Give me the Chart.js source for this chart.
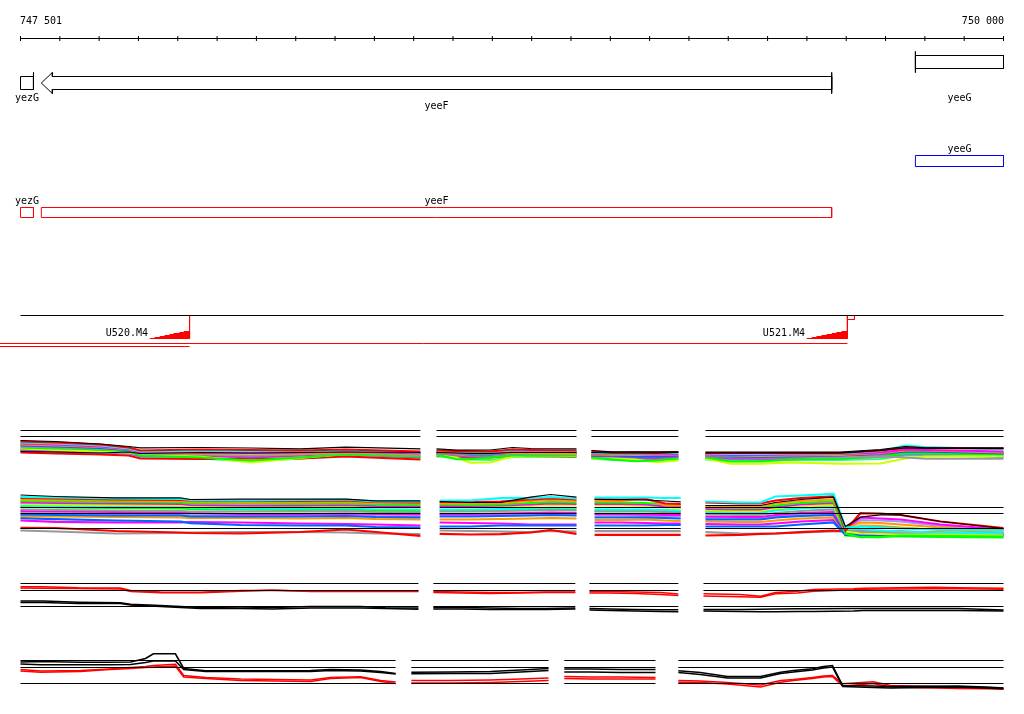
<!DOCTYPE html>
<html>
<head>
<meta charset="utf-8">
<script src="https://cdn.jsdelivr.net/npm/chart.js@4"></script>
<style>
html,body{margin:0;padding:0;background:#ffffff;}
#wrap{width:1024px;height:714px;}
</style>
</head>
<body>
<div id="wrap"><canvas id="c" width="1024" height="714"></canvas></div>
<script>
// ================= DATA =================
const viewStart = 747500, viewEnd = 750000;
const rulerTicks = [747500,747600,747700,747800,747900,748000,748100,748200,748300,748400,748500,748600,748700,
  748800,748900,749000,749100,749200,749300,749400,749500,749600,749700,749800,749900,750000];
const rulerLabels = ['747 501', '750 000'];

const geneNames  = ['yezG', 'yeeF', 'yeeG'];
const geneStart  = [747420, 747553, 749776];
const geneEnd    = [747533, 749563, 750350];
const geneStrand = [-1, -1, 1];
const geneLabelTier = [0, 1, 0];

const promNames = ['U520.M4', 'U521.M4'];
const u520X = [747828, 747841, 747854, 747866, 747879, 747889, 747904, 747915, 747930];
const u520H = [1, 2, 3, 4, 5, 6, 7, 8, 8];
const u521X = [749499, 749512, 749524, 749537, 749550, 749563, 749575, 749588, 749603];
const u521H = [1, 2, 3, 4, 5, 6, 7, 8, 8];
const termStart = [749603], termEnd = [749621];
const tuStart = [747380, 747380];
const tuEnd   = [749603, 747930];
const tuTier  = [0, 1];

// ---- expression row 1 ----
const r1Refs = [40, 34];
const r1aX = [747500, 747589, 747703, 747775, 747805, 747958, 748085, 748212, 748327, 748517];
const r1a = [
 [30, 29, 26.5, 24, 22.7, 23, 22.5, 21.7, 23.3, 21.7],
 [29, 28, 26, 23, 20, 21, 20.5, 20, 21, 19],
 [28, 27, 25, 22, 19, 19, 19, 18.5, 20, 18],
 [27, 26, 24, 21.5, 18, 18, 17.5, 18, 19, 17],
 [26, 25, 23.5, 21, 17.5, 17, 17, 17, 18, 16.5],
 [25, 24, 22.5, 20.5, 18.5, 17.5, 18, 17.5, 18.5, 17.5],
 [24, 23, 22, 20, 17, 16, 15, 16, 17.5, 15.5],
 [23, 22, 21, 19, 15, 13, 10, 13, 16, 14],
 [22, 20.5, 19, 18, 16, 14, 8, 12.5, 16.5, 14.5],
 [21, 20, 19.5, 18, 15, 15, 13, 15, 16, 13],
 [20, 19, 18, 17, 14, 14.5, 14, 15, 17, 14],
 [19, 18.5, 17.5, 18.5, 17, 18, 17.5, 18, 18.5, 18],
 [18, 17, 16, 15, 12, 11.5, 12, 12, 14, 11],
 [20, 18, 16.5, 16, 13, 12, 9, 12, 15, 12]
];
const r1bX = [748558, 748609, 748644, 748695, 748751, 748797, 748914];
const r1b = [
 [21.7, 20.3, 20.3, 20.5, 23, 22, 21.7],
 [20, 19.5, 19, 19, 21, 20.5, 20],
 [19.5, 19, 18.5, 18.5, 20, 20, 19.5],
 [18.5, 18, 17.5, 17.5, 19, 19, 18.5],
 [18, 17, 17, 17, 17.5, 17.5, 17],
 [17.5, 17, 16, 16, 18, 18, 17.5],
 [17, 16, 15, 15, 17, 17, 16.5],
 [16, 11.3, 11.3, 13, 15, 15, 15],
 [15.5, 13, 7.7, 8, 14, 15, 14.5],
 [16.5, 15, 14.5, 14, 16, 16, 16],
 [15, 14.5, 14, 13.5, 15.5, 15.5, 17],
 [18, 17.5, 17, 17, 18, 18, 18],
 [15, 14, 13, 13, 15, 14.5, 14],
 [14, 12.5, 11, 10.5, 13.5, 14, 13.5]
];
const r1cX = [748952, 749006, 749064, 749115, 749173];
const r1c = [
 [20, 18.7, 18.7, 18.7, 18.7],
 [19, 18, 18, 17.5, 18.5],
 [18, 17, 17, 17, 17.5],
 [17, 17, 16.5, 16, 16.5],
 [16, 15.7, 16, 15.5, 16],
 [15, 15, 14, 14, 15],
 [18, 17.5, 18, 18.2, 18.2],
 [13, 11, 9.3, 10, 12],
 [12, 12, 11, 8.3, 10],
 [14, 14, 13, 12.5, 14],
 [13, 12.5, 12, 12, 13],
 [18, 17.5, 17.5, 17.5, 18],
 [14.5, 13.5, 12.5, 12, 13.5],
 [12, 10.5, 10, 11, 11.5]
];
const r1dX = [749242, 749306, 749382, 749458, 749585, 749687, 749751, 749802, 750000];
const r1d = [
 [18.5, 18.5, 18.3, 18.3, 18.5, 21, 24, 22.7, 22.7],
 [17.5, 17.5, 17.5, 17.5, 17.5, 20, 23, 22.5, 22],
 [17, 16.5, 16.5, 17, 17, 19.5, 25, 23.5, 21],
 [16, 15.5, 15.5, 16, 16.5, 18, 21, 20.5, 19],
 [15, 15, 14.5, 15, 15.5, 17.5, 20, 20, 18],
 [14.5, 14, 13.5, 14, 15, 17, 19, 19, 17],
 [14, 13.5, 13, 13, 13.5, 14, 13, 11.7, 11.7],
 [13, 9, 9, 11, 12, 14, 17, 17, 16],
 [12, 6.7, 6.7, 8, 6.7, 7, 12, 14, 14.5],
 [13.5, 12.5, 12, 12.5, 13, 15, 18, 17.5, 15.5],
 [12.5, 11.5, 11, 11.5, 12, 13.5, 16, 16, 14],
 [17.7, 17.7, 17.7, 17.7, 17.7, 20, 22.5, 22, 22],
 [15.5, 15, 14, 14, 14, 15, 17.5, 17.5, 17],
 [11, 10, 10, 10.5, 10.5, 11.5, 15, 15, 13.5]
];
const r1Colors = ['#000000','#ff0000','#00ffff','#ff00ff','#ff9900','#0066ff','#999999','#00ff00',
  '#ccff00','#cc33cc','#9966ff','#000000','#ff0000','#33ff66'];

// ---- expression row 2 ----
const r2Refs = [38, 32, 17];
const r2aX = [747500, 747589, 747742, 747907, 747932, 748060, 748212, 748327, 748403, 748517];
const r2a = [
 [50.5, 49, 47.7, 47.7, 46, 46.3, 46.3, 46.3, 44.7, 44.7],
 [48.5, 48, 47, 46.5, 45.5, 45, 45.5, 46, 44, 44],
 [47.5, 47, 46, 45.5, 45, 44.5, 44.5, 45, 43.5, 43],
 [46, 45.5, 45, 44.5, 43.5, 43, 43, 43.5, 42.5, 42],
 [44.5, 44, 43.5, 43, 42, 42, 41.5, 42, 41, 40.5],
 [43, 42.5, 42, 41.5, 40.5, 40, 40, 40.5, 39.5, 39],
 [41.5, 41, 40.5, 40, 39.5, 39, 38.5, 39, 38, 38],
 [40, 39.5, 39, 38.5, 38, 37, 37, 37.5, 36.5, 36],
 [36, 35.5, 35, 34.5, 34, 34, 34, 34.5, 33.5, 33],
 [34.5, 34, 33.5, 33, 32.5, 31.5, 31.5, 32, 31.5, 31],
 [31, 30.5, 30, 30, 29, 29, 29, 29.5, 28.5, 28],
 [29.3, 29, 28.5, 28, 27.5, 27.5, 27, 27.5, 26.5, 26],
 [32.5, 32, 31.5, 31, 30.5, 30, 30, 30.5, 29.5, 29],
 [27.3, 26.3, 25, 24, 22.3, 20.5, 20, 20, 18.5, 18],
 [25, 23.7, 23, 23, 23.5, 23, 22, 21.5, 21, 20],
 [38.5, 38, 37.5, 37, 36.5, 36, 35.5, 36, 35, 34.5],
 [17.7, 17.5, 14.5, 13, 12.5, 12, 13.5, 16, 13.5, 9.7],
 [15, 14, 12, 12.5, 13, 13.5, 13.5, 13, 12, 11.5]
];
const r2bX = [748566, 748644, 748721, 748797, 748848, 748914];
const r2b = [
 [44, 43, 43, 48.3, 51, 48.3],
 [45, 45, 47.3, 47.3, 48.5, 47],
 [43.5, 43.5, 44, 46, 47, 46],
 [42, 42, 42.5, 44.5, 45.5, 44.5],
 [41, 40.5, 41, 42.5, 43.5, 43],
 [39.5, 39.5, 40, 41, 42, 41.5],
 [38.5, 38, 38.5, 39.5, 40.5, 40],
 [36, 36, 36.5, 37, 38, 37.5],
 [34, 34, 34.5, 35, 35.5, 35],
 [31.5, 31.5, 32, 32.5, 33, 32.5],
 [29, 29, 29.5, 30, 30.5, 30],
 [26, 26, 26.5, 27, 27.5, 27],
 [30, 30, 30.5, 31, 31, 30.5],
 [19, 19, 20, 20, 20, 20],
 [23, 22.5, 22, 21, 21, 21],
 [35, 35, 35.5, 36, 36.5, 36],
 [11.7, 11, 11.3, 13, 15.5, 11.7],
 [15, 14.5, 14, 13.3, 14.5, 14]
];
const r2cX = [748960, 749026, 749090, 749140, 749179];
const r2c = [
 [46, 46, 45.5, 44.5, 43.7],
 [48, 48, 48, 47.5, 47.5],
 [46.5, 46, 46.5, 42, 41.5],
 [44.5, 44.5, 47, 40, 40],
 [43, 43, 42.5, 41, 40.5],
 [41.5, 41.5, 41, 39, 38.5],
 [40, 40, 39.5, 38, 37.5],
 [36, 36, 36, 35.5, 35],
 [34, 34, 34, 33.5, 33],
 [31.5, 31.5, 31, 30.5, 30.5],
 [28, 28, 28, 27.5, 27],
 [25.5, 25.5, 26, 25, 24.5],
 [30, 30, 29.5, 29, 29],
 [20, 20, 20, 20.5, 20.5],
 [23, 23, 22.5, 22, 22],
 [34.7, 34.7, 35, 34, 34],
 [10.7, 10.7, 10.7, 10.7, 10.7],
 [14.3, 14.3, 14.3, 14.3, 14.3]
];
const r2dX = [749242, 749331, 749382, 749420, 749484, 749568, 749598, 749636, 749687, 749738, 749840, 750000];
const r2d = [
 [40, 40, 40, 43, 46, 48.3, 19, 28.3, 30.7, 30.7, 24, 17],
 [44, 43, 43, 49, 50, 51.7, 18, 19, 18, 17, 16, 15],
 [43, 42, 42, 45, 47.5, 49, 15, 32.3, 32, 30.5, 24, 17.5],
 [39.3, 39, 39, 42, 44.5, 46, 17, 23, 22.5, 21, 18, 15],
 [38, 37.5, 37.5, 40, 42.5, 44, 12, 8.3, 8.3, 10, 9.5, 9],
 [36.5, 36, 36, 38.5, 41, 42.5, 16, 28, 27, 26, 21, 16],
 [35, 34.5, 34.5, 37, 39, 40.5, 14, 12, 11.5, 11, 11, 10],
 [33, 32.5, 32.5, 35, 37, 38.5, 17, 16, 15, 14, 13, 12],
 [31, 30.5, 30.5, 32.5, 34.5, 36, 15, 14, 13.5, 13, 12.5, 12],
 [29, 28.5, 28.5, 30.5, 32.5, 33.5, 13.5, 13, 12.5, 12, 12, 11],
 [26, 26, 26, 28, 29.5, 30.5, 12, 10, 10, 10, 10, 9.5],
 [24, 23.5, 23.5, 25, 27, 28, 13, 20, 19.5, 18, 15.5, 13],
 [27.5, 27, 27, 29, 31, 32, 17.5, 25.5, 25, 24, 19.5, 15],
 [19, 19, 19, 19, 21, 23, 10.5, 11, 11, 11, 11, 10.5],
 [21.5, 21, 21, 22, 24, 25.5, 11.5, 14, 13.5, 12.5, 12, 11],
 [34, 33.5, 33.5, 36, 38, 39.5, 10, 9, 9, 9, 8.5, 8],
 [10, 10.7, 11.7, 12, 13.3, 15, 14, 15, 14.5, 14, 13, 12],
 [13.3, 12, 11.7, 12, 13, 14, 14, 13.5, 13, 13, 12.5, 12]
];
const r2Colors = ['#000000','#00ffff','#ff0000','#ff9900','#00ff00','#ff00ff','#ccff00','#00ffff','#999999',
  '#ff00ff','#0066ff','#ff9900','#9999ff','#0066ff','#ff00ff','#00ff00','#ff0000','#999999'];

// ---- expression row 3 ----
const r3Refs = [32, 25, 9];
const r3aX = [747500, 747558, 747648, 747754, 747780, 747856, 747958, 748060, 748141, 748238, 748365, 748428, 748512];
const r3a = [
 [28.7, 28.7, 27.7, 27.5, 25, 23.5, 23.3, 25, 25, 24.5, 24.5, 24.5, 24.5],
 [27.5, 27.3, 27, 26.5, 24, 22.7, 22.7, 24.3, 25.5, 24, 24, 24, 24],
 [14.5, 14.5, 13.3, 12.7, 11.3, 10, 8, 7.5, 8, 9, 9, 7.7, 7.5],
 [13, 13, 12, 12, 10.5, 9, 7, 7, 6.5, 7.5, 7.5, 7, 6.3]
];
const r3bX = [748550, 748619, 748695, 748772, 748835, 748911];
const r3b = [
 [24, 23.5, 23, 23, 23.5, 23.5],
 [23, 22.5, 22, 22.5, 23, 23],
 [8, 8, 7.5, 7, 7, 7.5],
 [6.5, 6.5, 6, 6, 6, 6.5]
];
const r3cX = [748947, 749000, 749064, 749128, 749173];
const r3c = [
 [24, 24, 23.5, 23, 21.5],
 [22.5, 22.5, 22, 21, 20],
 [7, 6.5, 6, 5.7, 5.7],
 [5.5, 5, 4.5, 4, 3.7]
];
const r3dX = [749237, 749331, 749382, 749420, 749476, 749517, 749619, 749644, 749822, 749886, 750000];
const r3d = [
 [21.7, 21, 19.3, 23, 24.3, 26, 26.7, 27.3, 28.3, 27.7, 27.3],
 [19.5, 18.7, 18.3, 21.7, 22.5, 24.3, 25.7, 26.3, 26.7, 26.7, 26.3],
 [6, 6, 6.3, 6.5, 6.7, 6.7, 7, 7, 7, 7, 5.5],
 [4.5, 4, 3.7, 3.7, 4, 4, 4.5, 5, 5, 5, 4.5]
];

// ---- expression row 4 ----
const r4Refs = [35, 28, 12];
const r4aX = [747500, 747551, 747653, 747716, 747780, 747818, 747838, 747894, 747915, 747971, 748060, 748238, 748288, 748365, 748416, 748454];
const r4a = [
 [26, 24.5, 25, 26.3, 28, 29, 30, 31.3, 20, 18, 16.5, 15.5, 18, 18.7, 15, 13.5],
 [24.5, 23.3, 24, 25.7, 27, 28, 28.5, 29.5, 18.5, 17, 15, 14, 17, 18, 14, 12],
 [33.5, 34, 33.3, 33.3, 33.5, 37, 41.7, 41.7, 27, 24.7, 24.7, 25, 26, 25.5, 24, 22],
 [31.5, 30.7, 30.7, 30.7, 31, 33, 34.5, 34.5, 26, 24, 24, 24, 25, 24.5, 23, 21.5]
];
const r4bX = [748494, 748594, 748695, 748772, 748843];
const r4b = [
 [15, 15, 15.5, 16.5, 17.5],
 [12.5, 12.5, 13, 14, 15],
 [23.3, 23.5, 24, 25.5, 27],
 [21.7, 22, 22, 23.5, 25]
];
const r4cX = [748883, 748950, 749026, 749115];
const r4c = [
 [19, 18.5, 18.5, 18],
 [17, 16.5, 16.5, 16.5],
 [26.5, 26.5, 26, 26],
 [23.5, 23.5, 23, 23]
];
const r4dX = [749173, 749229, 749298, 749382, 749433, 749466, 749514, 749542, 749565, 749591, 749669, 749713, 749883, 749954, 750000];
const r4d = [
 [15, 14.5, 13, 10.5, 15, 16, 18, 19.5, 20, 11.7, 13.7, 10, 8.5, 8, 7.5],
 [13.3, 13, 11.5, 8.5, 13.3, 15, 17, 18.5, 19, 9.5, 12, 8.5, 7, 6.7, 6.3],
 [24.7, 23, 19, 19, 23.3, 25, 26.7, 29, 30, 10, 9.5, 9, 9.5, 8.5, 7.5],
 [23, 21, 17.5, 17.5, 22, 23.5, 25.5, 27.5, 28.5, 9, 8, 7.5, 8.5, 7.5, 6.7]
];
const r34Colors = ['#ff0000', '#ff0000', '#000000', '#000000'];

// ================= LAYOUT =================
const W = 1024, H = 714;
const PX_PER_BP = 983 / 2500;
const X0_PX = 20.5;
const xMin = viewStart - X0_PX / PX_PER_BP;
const xMax = xMin + W / PX_PER_BP;
const bpOf = px => px / PX_PER_BP;
const rowBase = {e1: 470, e2: 545, e3: 615, e4: 695};
const FONT = '10px "DejaVu Sans Mono", "Liberation Mono", monospace';

const datasets = [];
const texts = [];
const xy = (xs, ys) => xs.map((x, i) => ({x: x, y: ys[i]}));
function addLine(points, color, axis, extra) {
  datasets.push(Object.assign({
    type: 'line', data: points, xAxisID: 'x', yAxisID: axis,
    borderColor: color, backgroundColor: color, borderWidth: 1,
    pointRadius: 0, pointHoverRadius: 0, fill: false, tension: 0, order: 4
  }, extra || {}));
}
const P = arr => arr.map(([x, y]) => ({x: x, y: y}));

// ruler
addLine(P([[viewStart, 38], [viewEnd, 38]]), '#000000', 'lay');
datasets.push({
  type: 'line', showLine: false, xAxisID: 'x', yAxisID: 'lay',
  data: rulerTicks.map(t => ({x: t, y: 38})),
  pointStyle: 'line', pointRotation: 90, pointRadius: 2.5, pointHoverRadius: 2.5,
  pointBorderColor: '#000000', pointBorderWidth: 1, order: 4
});
texts.push({t: rulerLabels[0], x: viewStart, y: 23.5, align: 'left', dx: -0.5});
texts.push({t: rulerLabels[1], x: viewEnd, y: 23.5, align: 'right', dx: 0.5});

// gene track 1 (arrows)
geneNames.forEach((name, i) => {
  const s = Math.max(geneStart[i], viewStart), e = Math.min(geneEnd[i], viewEnd);
  const fwd = geneStrand[i] > 0;
  const top = fwd ? 55 : 76, bot = fwd ? 68 : 89;
  const hTop = top - 4, hBot = bot + 4, mid = (top + bot) / 2;
  const h = bpOf(11);
  let poly;
  if (!fwd && geneStart[i] >= viewStart) {
    poly = [[s, mid], [s + h, hTop], [s + h, top], [e, top], [e, bot], [s + h, bot], [s + h, hBot], [s, mid]];
  } else if (fwd && geneEnd[i] <= viewEnd) {
    poly = [[e, mid], [e - h, hTop], [e - h, top], [s, top], [s, bot], [e - h, bot], [e - h, hBot], [e, mid]];
  } else {
    poly = [[s, top], [e, top], [e, bot], [s, bot], [s, top]];
  }
  addLine(P(poly), '#000000', 'lay', {borderJoinStyle: 'miter'});
  const startPos = fwd ? geneStart[i] : geneEnd[i];
  if (startPos >= viewStart && startPos <= viewEnd) {
    const fullMarker = fwd || geneStart[i] >= viewStart;
    addLine(P([[startPos, hTop], [startPos, fullMarker ? hBot : bot]]), '#000000', 'lay');
  }
  texts.push({t: name, x: (s + e) / 2, y: 100.5 + 8 * geneLabelTier[i], align: 'center', dx: 0});
});

// gene track 2 (boxes)
geneNames.forEach((name, i) => {
  const s = Math.max(geneStart[i], viewStart), e = Math.min(geneEnd[i], viewEnd);
  const fwd = geneStrand[i] > 0;
  const top = fwd ? 155 : 207, bot = fwd ? 166 : 217;
  addLine(P([[s, top], [e, top], [e, bot], [s, bot], [s, top]]), fwd ? '#0000ff' : '#ff0000', 'lay', {borderJoinStyle: 'miter'});
  texts.push({t: name, x: (s + e) / 2, y: top - 3.5, align: 'center', dx: 0});
});

// transcription track
addLine(P([[viewStart, 315], [viewEnd, 315]]), '#000000', 'lay');
tuStart.forEach((s, i) => {
  const y = 343 + 3 * tuTier[i];
  addLine(P([[s, y], [tuEnd[i], y]]), '#ff0000', 'lay');
});
[[u520X, u520H], [u521X, u521H]].forEach(([xs, hs], i) => {
  addLine(xy(xs, hs), 'rgba(0,0,0,0)', 'prom', {stepped: true, fill: {value: 0}, backgroundColor: '#ff0000'});
  const site = xs[xs.length - 1];
  addLine(P([[site, 315], [site, 338]]), '#ff0000', 'lay');
  texts.push({t: promNames[i], x: xs[0], y: 335.5, align: 'right', dx: -1.5});
});
termStart.forEach((s, i) => {
  addLine(P([[s, 315], [termEnd[i], 315], [termEnd[i], 319], [s, 319], [s, 315]]), '#ff0000', 'lay');
});

// expression rows
function band(segs, refs, colors, axis, colorW, blackW) {
  segs.forEach(([xs, ser]) => {
    refs.forEach(v => addLine([{x: xs[0], y: v}, {x: xs[xs.length - 1], y: v}], '#000000', axis, {order: 2}));
    ser.forEach((ys, k) => {
      const black = colors[k] === '#000000';
      addLine(xy(xs, ys), colors[k], axis, {borderWidth: black ? blackW : colorW, order: black ? 1 : 3});
    });
  });
}
band([[r1aX, r1a], [r1bX, r1b], [r1cX, r1c], [r1dX, r1d]], r1Refs, r1Colors, 'e1', 2, 1.2);
band([[r2aX, r2a], [r2bX, r2b], [r2cX, r2c], [r2dX, r2d]], r2Refs, r2Colors, 'e2', 2.2, 1.2);
band([[r3aX, r3a], [r3bX, r3b], [r3cX, r3c], [r3dX, r3d]], r3Refs, r34Colors, 'e3', 1.6, 1.6);
band([[r4aX, r4a], [r4bX, r4b], [r4cX, r4c], [r4dX, r4d]], r4Refs, r34Colors, 'e4', 1.6, 1.6);

// ================= CHART =================
function yAxis(min, max, reverse) {
  return {type: 'linear', axis: 'y', position: 'left', display: false, min: min, max: max,
          reverse: !!reverse, bounds: 'data', grace: 0};
}
const rowAxis = base => yAxis(base + 0.5 - H, base + 0.5, false);

const textPlugin = {
  id: 'trackText',
  afterDatasetsDraw(chart) {
    const ctx = chart.ctx, sx = chart.scales.x, sy = chart.scales.lay;
    ctx.save();
    ctx.font = FONT;
    ctx.fillStyle = '#000000';
    ctx.textBaseline = 'alphabetic';
    texts.forEach(t => {
      ctx.textAlign = t.align;
      ctx.fillText(t.t, sx.getPixelForValue(t.x) + (t.dx || 0), sy.getPixelForValue(t.y));
    });
    ctx.restore();
  }
};

new Chart(document.getElementById('c'), {
  type: 'line',
  data: {datasets: datasets},
  options: {
    responsive: false,
    maintainAspectRatio: false,
    devicePixelRatio: 1,
    animation: false,
    events: [],
    layout: {padding: 0, autoPadding: false},
    elements: {line: {borderCapStyle: 'butt'}},
    plugins: {legend: {display: false}, tooltip: {enabled: false}, title: {display: false}},
    scales: {
      x: {type: 'linear', axis: 'x', position: 'bottom', display: false, min: xMin, max: xMax, bounds: 'data'},
      lay: yAxis(-0.5, H - 0.5, true),
      e1: rowAxis(rowBase.e1),
      e2: rowAxis(rowBase.e2),
      e3: rowAxis(rowBase.e3),
      e4: rowAxis(rowBase.e4),
      prom: yAxis(339 - H, 339, false)
    }
  },
  plugins: [textPlugin]
});
</script>
</body>
</html>
